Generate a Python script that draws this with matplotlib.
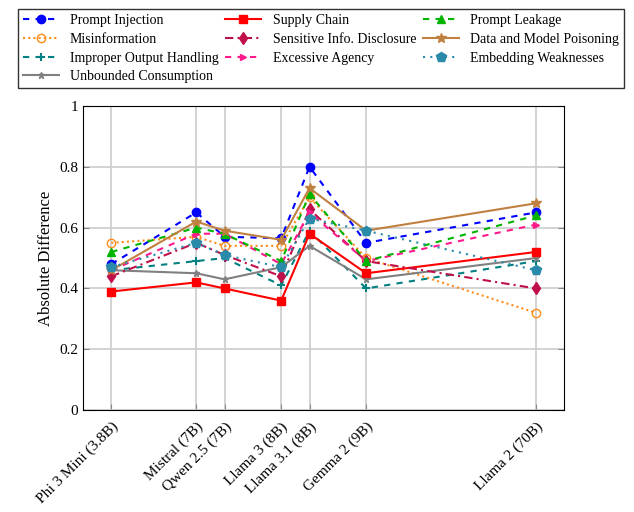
import matplotlib.pyplot as plt
import numpy as np

plt.rcParams['font.family'] = ['Liberation Serif', 'DejaVu Serif']

# data
models = ["Phi 3 Mini (3.8B)", "Mistral (7B)", "Qwen 2.5 (7B)", "Llama 3 (8B)",
          "Llama 3.1 (8B)", "Gemma 2 (9B)", "Llama 2 (70B)"]
xpos = [0, 1.5, 2, 3, 3.5, 4.5, 7.5]

prompt_injection = [0.48, 0.65, 0.57, 0.565, 0.80, 0.55, 0.65]
supply_chain = [0.39, 0.42, 0.40, 0.36, 0.58, 0.45, 0.52]
prompt_leakage = [0.52, 0.60, 0.58, 0.49, 0.71, 0.49, 0.64]
misinformation = [0.55, 0.57, 0.54, 0.54, 0.70, 0.50, 0.32]
sensitive_info = [0.44, 0.55, 0.51, 0.44, 0.66, 0.49, 0.40]
data_poisoning = [0.46, 0.62, 0.59, 0.56, 0.73, 0.59, 0.68]
improper_output = [0.46, 0.49, 0.50, 0.41, 0.59, 0.40, 0.49]
excessive_agency = [0.46, 0.58, 0.58, 0.48, 0.65, 0.49, 0.61]
embedding_weak = [0.47, 0.55, 0.51, 0.47, 0.63, 0.59, 0.46]
unbounded = [0.46, 0.45, 0.43, 0.47, 0.54, 0.43, 0.50]

fig = plt.figure(figsize=(6.34, 5.12), dpi=100)
ax = fig.add_axes([0.131, 0.199, 0.759, 0.594])

dash = (0, (3, 3))
# plotted in legend order (column-major fill gives the row-major look)
ax.plot(xpos, prompt_injection, color='blue', ls=dash, marker='o', ms=6, label='Prompt Injection')
ax.plot(xpos, misinformation, color='#ff8c1a', ls=(0, (1, 1.5)), marker='o', ms=6, mfc='none', label='Misinformation')
ax.plot(xpos, improper_output, color='#008080', ls=dash, marker='+', ms=6, mew=1.5, label='Improper Output Handling')
ax.plot(xpos, unbounded, color='gray', ls='-', marker='*', ms=5, label='Unbounded Consumption')
ax.plot(xpos, supply_chain, color='red', ls='-', marker='s', ms=6, label='Supply Chain')
ax.plot(xpos, sensitive_info, color='#c0104a', ls=(0, (4, 2, 1, 2)), marker='d', ms=6, label='Sensitive Info. Disclosure')
ax.plot(xpos, excessive_agency, color='#ff1a8c', ls=dash, marker='>', ms=4.5, label='Excessive Agency')
ax.plot(xpos, prompt_leakage, color='#00b400', ls=dash, marker='^', ms=5.5, label='Prompt Leakage')
ax.plot(xpos, data_poisoning, color='#c08040', ls='-', marker='*', ms=7, label='Data and Model Poisoning')
ax.plot(xpos, embedding_weak, color='#2a8aaa', ls=(0, (1, 2.5)), marker='p', ms=7, label='Embedding Weaknesses')

ax.set_xlim(-0.5, 8)
ax.set_ylim(0, 1)
ax.set_xticks(xpos)
ax.set_xticklabels(models, rotation=45, ha='right', rotation_mode='anchor', fontsize=11)
ax.set_yticks([0, 0.2, 0.4, 0.6, 0.8, 1])
ax.set_yticklabels(['0', '0.2', '0.4', '0.6', '0.8', '1'], fontsize=11)
ax.set_ylabel('Absolute Difference', fontsize=12)
ax.grid(True, color='#cccccc', lw=1.2)
ax.set_axisbelow(True)
ax.tick_params(direction='in', right=True, length=4, color='#888888')
ax.tick_params(axis='x', pad=7)

leg = fig.legend(loc='upper left', bbox_to_anchor=(0.017, 0.996, 0.978, 0.0), mode='expand',
                 ncol=3, fontsize=10, frameon=True, fancybox=False, edgecolor='black',
                 handlelength=2.6, borderpad=0.35, labelspacing=0.42, columnspacing=1.0)
leg.get_frame().set_linewidth(1.0)

plt.savefig('out.png')
